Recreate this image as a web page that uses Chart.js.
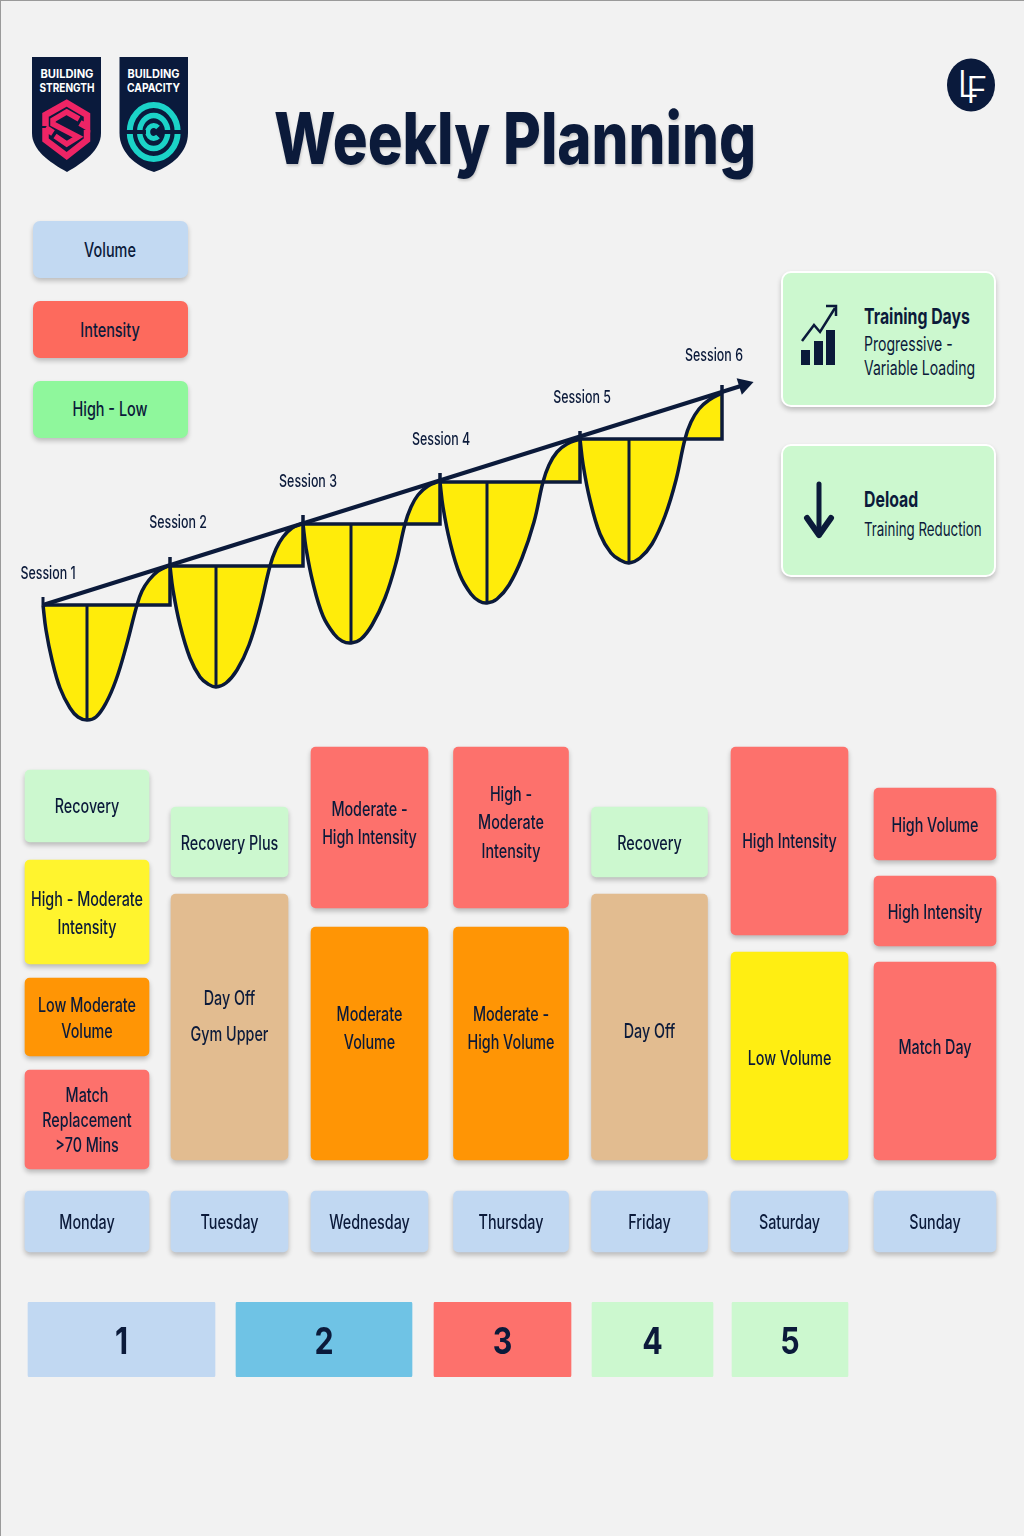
<!DOCTYPE html>
<html><head><meta charset="utf-8">
<script src="https://cdn.jsdelivr.net/npm/chart.js@4/dist/chart.umd.min.js"></script>
<style>
html,body{margin:0;padding:0;background:#f2f2f2;}
#page{position:relative;width:1024px;height:1536px;overflow:hidden;background:#f2f2f2;font-family:Inter,"Noto Sans",sans-serif;color:#0b1a3a;box-shadow:inset 1px 1px 0 #9a9a9a;}
canvas{position:absolute;left:0;}
.card{position:absolute;box-sizing:border-box;border-radius:7px;box-shadow:0 3px 5px rgba(0,0,0,.22);}
.t{position:absolute;white-space:nowrap;line-height:1;transform:translateY(-50%) scaleX(.72);transform-origin:left center;font-weight:400;}
.c{position:absolute;white-space:nowrap;line-height:1;transform:translate(-50%,-50%) scaleX(.74);transform-origin:center;font-weight:500;font-size:19.5px;}
.rc{background:#ccf8cf;border:2px solid #fff;border-radius:10px;}
svg{position:absolute;left:0;top:0;}
</style></head><body>
<div id="page">
<svg width="1024" height="300" viewBox="0 0 1024 300">
  <path d="M32 57H101V133C101 150 84 162 67 172C49 162 32 150 32 133Z" fill="#0a1a3c"/>
  <path d="M119.5 57H188V133C188 152 172 166 154 172C135 166 119.5 152 119.5 133Z" fill="#0a1a3c"/>
  <g font-family="Inter" font-weight="700" font-size="12" fill="#fff" text-anchor="middle">
    <text x="67" y="78" textLength="53" lengthAdjust="spacingAndGlyphs">BUILDING</text>
    <text x="67" y="92" textLength="55" lengthAdjust="spacingAndGlyphs">STRENGTH</text>
    <text x="153.5" y="78" textLength="52" lengthAdjust="spacingAndGlyphs">BUILDING</text>
    <text x="153.5" y="92" textLength="53" lengthAdjust="spacingAndGlyphs">CAPACITY</text>
  </g>
  <g fill="none" stroke="#ee2465" stroke-linejoin="miter">
    <path d="M45.5 126V115L66.7 103L87 115V127L80 123" stroke-width="6.5"/>
    <path d="M45.5 128L53 133M45.5 128V140L66.7 156L87 140V130" stroke-width="6.5"/>
    <path d="M79 119L66.7 112L53 120V124L78 137L66.7 144L55 136" stroke-width="5.5"/>
  </g>
  <g fill="none" stroke="#1bd3c8">
    <ellipse cx="153.7" cy="132" rx="24" ry="27" stroke-width="6"/>
    <ellipse cx="153.7" cy="132" rx="14" ry="16.5" stroke-width="5.5"/>
    <path d="M158 127.5A6 6.5 0 1 0 158 136.5" stroke-width="5"/>
  </g>
  <rect x="124" y="130" width="22" height="4" fill="#0a1a3c"/>
  <rect x="162" y="130" width="22" height="4" fill="#0a1a3c"/>
  <ellipse cx="971" cy="85" rx="24" ry="26.5" fill="#0a1a3c"/>
  <g font-family="Inter" font-weight="300" fill="#fff">
    <text x="957.5" y="97" font-size="37">L</text>
    <text x="966" y="103" font-size="37">F</text>
  </g>
</svg>
<div class="t" style="left:274px;top:138px;font-size:72px;font-weight:800;transform:translateY(-50%) scaleX(.808);text-shadow:1px 2px 3px rgba(0,0,0,.18)">Weekly Planning</div>

<div class="card" style="left:33px;top:221px;width:155px;height:57px;background:#c2d9f2"></div>
<div class="card" style="left:33px;top:301px;width:155px;height:57px;background:#fd6a5d"></div>
<div class="card" style="left:33px;top:381px;width:155px;height:57px;background:#8ff79c"></div>
<div class="c" style="left:110px;top:251px">Volume</div>
<div class="c" style="left:110px;top:331px">Intensity</div>
<div class="c" style="left:110px;top:410px">High - Low</div>

<div class="card rc" style="left:781px;top:271px;width:215px;height:136px"></div>
<div class="card rc" style="left:781px;top:444px;width:215px;height:133px"></div>
<svg width="1024" height="600" viewBox="0 0 1024 600">
  <g fill="#0b1a3a">
    <rect x="801" y="350" width="9" height="15"/><rect x="814" y="341" width="9" height="24"/><rect x="826" y="330" width="9" height="35"/>
  </g>
  <g fill="none" stroke="#0b1a3a" stroke-width="2.5">
    <path d="M802 341L814 325L820 332L835 308"/><path d="M826 306H836V316"/>
    <path d="M819 484V535" stroke-width="5" stroke-linecap="round"/>
    <path d="M807 518L819 535L831 518" stroke-width="6" stroke-linecap="round" stroke-linejoin="round"/>
  </g>
</svg>
<div class="t" style="left:864px;top:316px;font-size:22px;font-weight:700">Training Days</div>
<div class="t" style="left:864px;top:345px;font-size:19.5px;">Progressive -</div>
<div class="t" style="left:864px;top:369px;font-size:19.5px;">Variable Loading</div>
<div class="t" style="left:864px;top:499px;font-size:22px;font-weight:700">Deload</div>
<div class="t" style="left:864px;top:529px;font-size:18.5px;">Training Reduction</div>

<canvas id="sessions" style="top:340px" width="780" height="400"></canvas>
<canvas id="week" style="top:740px" width="1024" height="530"></canvas>
<canvas id="ranks" style="top:1302px" width="1024" height="75"></canvas>
</div>
<script>
// ---- Session loading waves (x: training time, y: load) ----
const sessionNames = ["Session 1","Session 2","Session 3","Session 4","Session 5","Session 6"];
const sessionLabelX = [0.5,13.5,26.5,39.8,53.9,67.1];
const sessionLabelY = [3.1,8.2,12.3,16.5,20.7,24.9];
const wave1X = [0,0.3,0.9,1.7,2.7,3.5,4.4,5.3,6.3,7.3,8.3,9.4,9.9,10.6,11.5,12.7];
const wave1Y = [0,-2.5,-5.5,-8.3,-10.3,-11.2,-11.5,-11.2,-9.8,-7.5,-4.2,0,1.4,2.5,3.4,4.0];
const wave2X = [12.7,13.0,13.7,14.7,15.7,16.5,17.3,18.3,19.4,20.6,21.7,22.7,23.3,24.0,24.9,26.0];
const wave2Y = [3.9,1.5,-2.0,-5.3,-7.2,-7.9,-8.2,-7.8,-6.5,-4.0,-0.3,3.9,5.6,6.8,7.7,8.2];
const wave3X = [26.0,26.3,27.0,28.0,29.1,29.9,30.8,31.8,32.9,34.2,35.3,36.2,36.8,37.5,38.5,39.7];
const wave3Y = [8.1,5.7,2.2,-1.1,-2.9,-3.6,-3.8,-3.4,-2.0,0.7,4.2,8.1,9.8,11.0,11.9,12.4];
const wave4X = [39.7,40.0,40.7,41.7,42.8,43.6,44.4,45.4,46.6,47.9,49.1,50.0,50.6,51.4,52.4,53.7];
const wave4Y = [12.3,9.8,6.3,3.0,1.1,0.4,0.2,0.6,2.0,4.7,8.3,12.3,14.0,15.3,16.1,16.6];
const wave5X = [53.7,54.0,54.7,55.7,56.8,57.7,58.6,59.7,60.9,62.2,63.3,64.2,64.8,65.6,66.6,67.9];
const wave5Y = [16.6,14.1,10.5,7.1,5.2,4.5,4.2,4.7,6.1,8.9,12.5,16.6,18.3,19.6,20.5,21.2];
const waveTicks = [4.8,9.0,13.2,17.4,22.0];
const startTick = 0.8;
const trendX = [0,70.1];
const trendY = [0,22.0];

// ---- Weekly blocks ----
const dayNames = ["Monday","Tuesday","Wednesday","Thursday","Friday","Saturday","Sunday"];
const dayRowTop = -3.1, dayRowBottom = -9.2;
const mondayLabels = ["Recovery","High - Moderate\nIntensity","Low Moderate\nVolume","Match\nReplacement\n>70 Mins"];
const mondayTops = [39.0,30.0,18.2,9.0];
const mondayBottoms = [31.8,19.6,10.4,-0.9];
const mondayKinds = ["recovery","highmod","volume","match"];
const tuesdayLabels = ["Recovery Plus","Day Off\nGym Upper"];
const tuesdayTops = [35.3,26.6];
const tuesdayBottoms = [28.3,0];
const tuesdayKinds = ["recovery","off"];
const wednesdayLabels = ["Moderate -\nHigh Intensity","Moderate\nVolume"];
const wednesdayTops = [41.3,23.3];
const wednesdayBottoms = [25.2,0];
const wednesdayKinds = ["match","volume"];
const thursdayLabels = ["High -\nModerate\nIntensity","Moderate -\nHigh Volume"];
const thursdayTops = [41.3,23.3];
const thursdayBottoms = [25.2,0];
const thursdayKinds = ["match","volume"];
const fridayLabels = ["Recovery","Day Off"];
const fridayTops = [35.3,26.6];
const fridayBottoms = [28.3,0];
const fridayKinds = ["recovery","off"];
const saturdayLabels = ["High Intensity","Low Volume"];
const saturdayTops = [41.3,20.8];
const saturdayBottoms = [22.5,0];
const saturdayKinds = ["match","low"];
const sundayLabels = ["High Volume","High Intensity","Match Day"];
const sundayTops = [37.2,28.4,19.8];
const sundayBottoms = [30.0,21.4,0];
const sundayKinds = ["match","match","match"];

// ---- Numbered row ----
const rankLabels = ["1","2","3","4","5"];
const rankStarts = [28,236,434,592,732];
const rankEnds = [215,412,571,713,848];

// ---- Layout and style (not data) ----
const INK = "#0b1a3a";
const FACE = "500 19.5px Inter, 'Noto Sans', sans-serif";
const SQUEEZE = 0.735;
const dayCentres = [87,229.5,369.5,511,649.5,789.5,935];
const dayWidths = [124,117,117,115,116,117,122];
const kindColours = {recovery:"#ccf8cf",highmod:"#fff42e",volume:"#ff9505",match:"#fd716c",off:"#e2bc90",low:"#ffee12"};
const dayBlue = "#c1d8f2";
const rankColours = ["#c1d8f2","#6fc3e5","#fd716c","#ccf8cf","#ccf8cf"];
const blockLines = [[28,28,26,25],[28,36],[28,28],[28.5,28],[28,28],[28,28],[28,28,28]];
const blockShift = [[1,2,2,2],[2,-10],[-3,-14],[-4,-14],[2,5],[1,3],[2,2,-13]];

function drawLabel(ctx,text,cx,cy,font,squeeze,color){
  ctx.save();ctx.translate(cx,cy);ctx.scale(squeeze,1);
  ctx.font=font;ctx.fillStyle=color;ctx.textAlign="center";ctx.textBaseline="middle";
  ctx.fillText(text,0,0);ctx.restore();
}
Chart.defaults.animation=false;
Chart.defaults.responsive=false;
Chart.defaults.plugins.legend.display=false;
Chart.defaults.plugins.tooltip.enabled=false;

// Sessions chart
const xyOf=(xs,ys)=>xs.map((x,i)=>({x,y:ys[i]}));
const waves=[[wave1X,wave1Y],[wave2X,wave2Y],[wave3X,wave3Y],[wave4X,wave4Y],[wave5X,wave5Y]];
const sessionSets=[];
waves.forEach(([xs,ys],i)=>{
  const base=ys[0], sx=xs[0], ex=xs[xs.length-1];
  sessionSets.push({data:xyOf(xs,ys),borderColor:INK,borderWidth:3.5,backgroundColor:"#ffec0a",
    fill:{value:base},tension:0.4,pointRadius:0,order:3,clip:false});
  sessionSets.push({data:[{x:sx,y:base},{x:ex,y:base},{x:ex,y:waveTicks[i]}],borderColor:INK,borderWidth:3.5,fill:false,pointRadius:0,order:2,clip:false,borderJoinStyle:"miter"});
  sessionSets.push({data:[{x:xs[6],y:base},{x:xs[6],y:ys[6]}],borderColor:INK,borderWidth:3,fill:false,pointRadius:0,order:2,clip:false});
});
sessionSets.push({data:[{x:wave1X[0],y:wave1Y[0]},{x:wave1X[0],y:startTick}],borderColor:INK,borderWidth:3,fill:false,pointRadius:0,order:1,clip:false});
sessionSets.push({data:xyOf(trendX,trendY),borderColor:INK,backgroundColor:INK,borderWidth:4,fill:false,order:1,clip:false,
  pointStyle:"triangle",pointRotation:72.5,pointRadius:c=>c.dataIndex===1?10:0,pointBorderWidth:0});
new Chart(document.getElementById("sessions"),{
  type:"line",
  data:{datasets:sessionSets},
  options:{layout:{padding:0,autoPadding:false},
    scales:{x:{type:"linear",display:false,min:-4.3,max:73.7},y:{type:"linear",display:false,min:-13.5,max:26.5}}},
  plugins:[{id:"sessionNames",afterDatasetsDraw(ch){
    sessionNames.forEach((n,i)=>drawLabel(ch.ctx,n,ch.scales.x.getPixelForValue(sessionLabelX[i]),ch.scales.y.getPixelForValue(sessionLabelY[i]),"500 17px Inter, sans-serif",0.73,INK));
  }}]
});

// Weekly chart
const weekDays=[
  [mondayLabels,mondayTops,mondayBottoms,mondayKinds],
  [tuesdayLabels,tuesdayTops,tuesdayBottoms,tuesdayKinds],
  [wednesdayLabels,wednesdayTops,wednesdayBottoms,wednesdayKinds],
  [thursdayLabels,thursdayTops,thursdayBottoms,thursdayKinds],
  [fridayLabels,fridayTops,fridayBottoms,fridayKinds],
  [saturdayLabels,saturdayTops,saturdayBottoms,saturdayKinds],
  [sundayLabels,sundayTops,sundayBottoms,sundayKinds]
];
const weekSets=weekDays.map(([labels,tops,bottoms,kinds],d)=>({
  data:[...tops.map((t,i)=>({x:dayCentres[d],y:[bottoms[i],t]})),{x:dayCentres[d],y:[dayRowBottom,dayRowTop]}],
  backgroundColor:[...kinds.map(k=>kindColours[k]),dayBlue],
  grouped:false,barPercentage:1,categoryPercentage:1,maxBarThickness:dayWidths[d],borderRadius:5,borderSkipped:false,clip:false
}));
new Chart(document.getElementById("week"),{
  type:"bar",
  data:{datasets:weekSets},
  options:{layout:{padding:0},
    scales:{x:{type:"linear",offset:false,display:false,min:0,max:1024},y:{type:"linear",display:false,min:-11,max:42}}},
  plugins:[{id:"blockStyle",
    beforeDatasetsDraw(ch){const c=ch.ctx;c.save();c.shadowColor="rgba(0,0,0,.24)";c.shadowBlur=5;c.shadowOffsetY=3;},
    afterDatasetsDraw(ch){ch.ctx.restore();
      const c=ch.ctx,ys=ch.scales.y,xs=ch.scales.x;
      weekDays.forEach(([labels,tops,bottoms],d)=>{
        const px=xs.getPixelForValue(dayCentres[d]);
        labels.forEach((lab,i)=>{
          const lines=lab.split("\n"),lh=blockLines[d][i];
          const cy=(ys.getPixelForValue(tops[i])+ys.getPixelForValue(bottoms[i]))/2+blockShift[d][i];
          lines.forEach((ln,k)=>drawLabel(c,ln,px,cy+(k-(lines.length-1)/2)*lh,FACE,SQUEEZE,INK));
        });
        drawLabel(c,dayNames[d],px,(ys.getPixelForValue(dayRowTop)+ys.getPixelForValue(dayRowBottom))/2+2,FACE,SQUEEZE,INK);
      });
    }}]
});

// Numbered row
new Chart(document.getElementById("ranks"),{
  type:"bar",
  data:{labels:["Row"],datasets:rankLabels.map((r,i)=>({label:r,data:[[rankStarts[i],rankEnds[i]]],backgroundColor:rankColours[i],
    grouped:false,barPercentage:1,categoryPercentage:1,borderRadius:2,borderSkipped:false}))},
  options:{indexAxis:"y",layout:{padding:0},
    scales:{x:{type:"linear",offset:false,display:false,min:0,max:1024},y:{display:false}}},
  plugins:[{id:"rankNames",afterDatasetsDraw(ch){
    rankLabels.forEach((r,i)=>drawLabel(ch.ctx,r,ch.scales.x.getPixelForValue((rankStarts[i]+rankEnds[i])/2),ch.height/2+3,"700 37px Inter, sans-serif",0.82,INK));
  }}]
});
</script>
</body></html>
